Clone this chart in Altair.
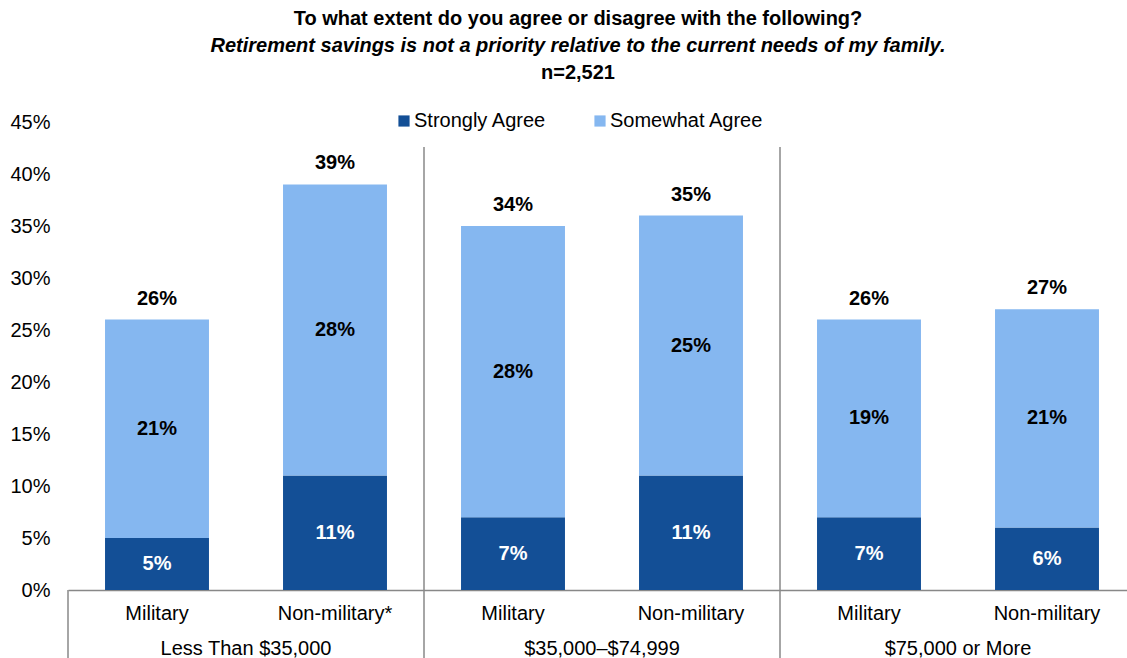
import altair as alt
import pandas as pd

# ---- data ----
income_groups = ["Less Than $35,000", "$35,000\u2013$74,999", "$75,000 or More"]
bar_labels = ["Military", "Non-military*", "Military", "Non-military", "Military", "Non-military"]
strongly_agree = [5, 11, 7, 11, 7, 6]
somewhat_agree = [21, 28, 28, 25, 19, 21]
totals = [26, 39, 34, 35, 26, 27]
series_names = ["Strongly Agree", "Somewhat Agree"]
title_lines = [
    "To what extent do you agree or disagree with the following?",
    "Retirement savings is not a priority relative to the current needs of my family.",
    "n=2,521",
]
title_styles = ["normal", "italic", "normal"]
y_ticks = [0, 0.05, 0.10, 0.15, 0.20, 0.25, 0.30, 0.35, 0.40, 0.45]

DARK = "#134F96"
LIGHT = "#85B7F0"
FONT = "Liberation Sans"
FS = 20
W, H = 1059, 468
HALF = 0.292

rows = []
for i in range(len(bar_labels)):
    s, m = strongly_agree[i] / 100, somewhat_agree[i] / 100
    rows.append(dict(pos=i + 0.5, x0=i + 0.5 - HALF, x1=i + 0.5 + HALF, series=series_names[0],
                     y0=0, y1=s, mid=s / 2, lab=f"{strongly_agree[i]}%"))
    rows.append(dict(pos=i + 0.5, x0=i + 0.5 - HALF, x1=i + 0.5 + HALF, series=series_names[1],
                     y0=s, y1=s + m, mid=s + m / 2, lab=f"{somewhat_agree[i]}%"))
bars = pd.DataFrame(rows)

tot_df = pd.DataFrame({
    "pos": [i + 0.5 for i in range(len(totals))],
    "top": [(strongly_agree[i] + somewhat_agree[i]) / 100 for i in range(len(totals))],
    "lab": [f"{t}%" for t in totals],
    "cat": bar_labels,
})
grp_df = pd.DataFrame({"pos": [2 * g + 1 for g in range(len(income_groups))], "lab": income_groups})
sep_df = pd.DataFrame({"pos": [2, 4]})
left_df = pd.DataFrame({"pos": [0]})

xs = alt.Scale(domain=[0, 6], range=[0, 1068], nice=False, zero=False)
ys = alt.Scale(domain=[0, 0.45], nice=False)

bar_layer = alt.Chart(bars).mark_bar().encode(
    x=alt.X("x0:Q", scale=xs,
            axis=alt.Axis(labels=False, ticks=False, grid=False, title=None,
                          domainColor="#888888", domainWidth=1.5)),
    x2="x1:Q",
    y=alt.Y("y0:Q", scale=ys,
            axis=alt.Axis(values=y_ticks, format=".0%", grid=False, ticks=False, domain=False,
                          title=None, labelFontSize=FS, labelFont=FONT, labelColor="#000000",
                          labelPadding=18)),
    y2="y1:Q",
    color=alt.Color("series:N", scale=alt.Scale(domain=series_names, range=[DARK, LIGHT]),
                    legend=alt.Legend(orient="none", legendX=326, legendY=-11, direction="horizontal",
                                      title=None, symbolType="square", symbolSize=125,
                                      symbolStrokeWidth=0, labelFontSize=FS, labelFont=FONT,
                                      labelColor="#000000", columnPadding=43, labelOffset=0)),
)

inner_lab = alt.Chart(bars).mark_text(fontSize=FS, font=FONT, fontWeight="bold", baseline="middle").encode(
    x=alt.X("pos:Q", scale=xs),
    y=alt.Y("mid:Q", scale=ys),
    text="lab:N",
    color=alt.Color("series:N", scale=alt.Scale(domain=series_names, range=["#FFFFFF", "#000000"]),
                    legend=None),
)

tot_lab = alt.Chart(tot_df).mark_text(fontSize=FS, font=FONT, fontWeight="bold", baseline="middle",
                                      dy=-21, color="#000000").encode(
    x=alt.X("pos:Q", scale=xs),
    y=alt.Y("top:Q", scale=ys),
    text="lab:N",
)

cat_lab = alt.Chart(tot_df).mark_text(fontSize=FS, font=FONT, baseline="middle", color="#000000").encode(
    x=alt.X("pos:Q", scale=xs),
    y=alt.value(H + 24),
    text="cat:N",
)

grp_lab = alt.Chart(grp_df).mark_text(fontSize=FS, font=FONT, baseline="middle", color="#000000").encode(
    x=alt.X("pos:Q", scale=xs),
    y=alt.value(H + 59),
    text="lab:N",
)

seps = alt.Chart(sep_df).mark_rule(color="#888888", strokeWidth=1.5).encode(
    x=alt.X("pos:Q", scale=xs),
    y=alt.value(25),
    y2=alt.value(H + 70),
)

left_rule = alt.Chart(left_df).mark_rule(color="#888888", strokeWidth=1.5).encode(
    x=alt.X("pos:Q", scale=xs),
    y=alt.value(H),
    y2=alt.value(H + 70),
)

title_y = [-103, -76, -49]
title_layers = []
for k, line in enumerate(title_lines):
    tdf = pd.DataFrame({"t": [line]})
    title_layers.append(
        alt.Chart(tdf).mark_text(fontSize=FS, font=FONT, fontWeight="bold", baseline="middle",
                                 fontStyle=title_styles[k], color="#000000").encode(
            x=alt.value(510), y=alt.value(title_y[k]), text="t:N")
    )

chart = alt.layer(seps, left_rule, bar_layer, inner_lab, tot_lab, cat_lab, grp_lab, *title_layers).resolve_scale(
    color="independent"
).properties(
    width=W, height=H,
    background="#FFFFFF",
    autosize=alt.AutoSizeParams(type="none"),
    padding={"left": 68, "top": 122, "right": 0, "bottom": 68},
).configure_view(strokeWidth=0, stroke="transparent")

chart.save("out.html", embed_options={"renderer": "svg", "actions": False})
